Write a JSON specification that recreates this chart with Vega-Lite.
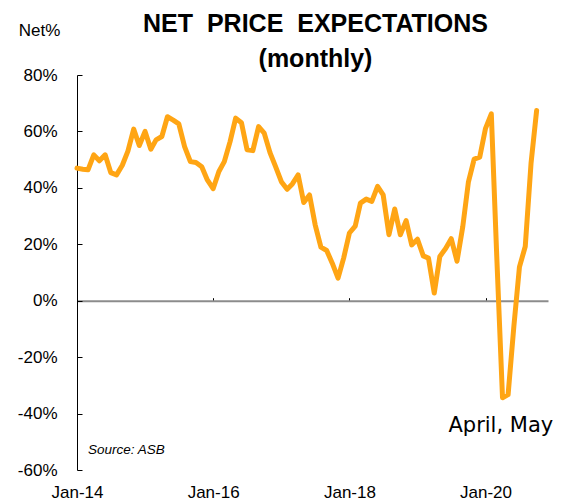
{
  "$schema": "https://vega.github.io/schema/vega-lite/v6.json",
  "autosize": {"type": "none"},
  "padding": {"left": 77, "top": 75, "right": 14, "bottom": 34},
  "width": 471,
  "height": 395,
  "background": "white",
  "config": {"view": {"stroke": null}, "font": "Liberation Sans"},
  "title": {
    "text": ["NET\u00a0 PRICE\u00a0 EXPECTATIONS", "(monthly)"],
    "fontSize": 25,
    "fontWeight": "bold",
    "font": "Liberation Sans",
    "color": "black",
    "lineHeight": 35,
    "anchor": "middle",
    "offset": -51,
    "dx": 3
  },
  "datasets": {
    "series": [
      {"month": "2014-01-01", "net": 47},
      {"month": "2014-02-01", "net": 46.6},
      {"month": "2014-03-01", "net": 46.4},
      {"month": "2014-04-01", "net": 51.7},
      {"month": "2014-05-01", "net": 49.6},
      {"month": "2014-06-01", "net": 51.7},
      {"month": "2014-07-01", "net": 45.4},
      {"month": "2014-08-01", "net": 44.6},
      {"month": "2014-09-01", "net": 48},
      {"month": "2014-10-01", "net": 53},
      {"month": "2014-11-01", "net": 60.8},
      {"month": "2014-12-01", "net": 55},
      {"month": "2015-01-01", "net": 60},
      {"month": "2015-02-01", "net": 53.7},
      {"month": "2015-03-01", "net": 57},
      {"month": "2015-04-01", "net": 58.2},
      {"month": "2015-05-01", "net": 65.2},
      {"month": "2015-06-01", "net": 64},
      {"month": "2015-07-01", "net": 62.7},
      {"month": "2015-08-01", "net": 54.6},
      {"month": "2015-09-01", "net": 49.3},
      {"month": "2015-10-01", "net": 49},
      {"month": "2015-11-01", "net": 47.5},
      {"month": "2015-12-01", "net": 42.8},
      {"month": "2016-01-01", "net": 39.7},
      {"month": "2016-02-01", "net": 45.8},
      {"month": "2016-03-01", "net": 49.3},
      {"month": "2016-04-01", "net": 56.4},
      {"month": "2016-05-01", "net": 64.7},
      {"month": "2016-06-01", "net": 63.1},
      {"month": "2016-07-01", "net": 53.5},
      {"month": "2016-08-01", "net": 53.2},
      {"month": "2016-09-01", "net": 61.7},
      {"month": "2016-10-01", "net": 59.4},
      {"month": "2016-11-01", "net": 52.5},
      {"month": "2016-12-01", "net": 47.5},
      {"month": "2017-01-01", "net": 42.2},
      {"month": "2017-02-01", "net": 39.5},
      {"month": "2017-03-01", "net": 41.4},
      {"month": "2017-04-01", "net": 44.6},
      {"month": "2017-05-01", "net": 34.8},
      {"month": "2017-06-01", "net": 37.5},
      {"month": "2017-07-01", "net": 27},
      {"month": "2017-08-01", "net": 19},
      {"month": "2017-09-01", "net": 17.8},
      {"month": "2017-10-01", "net": 13.3},
      {"month": "2017-11-01", "net": 8},
      {"month": "2017-12-01", "net": 15.1},
      {"month": "2018-01-01", "net": 24},
      {"month": "2018-02-01", "net": 26.4},
      {"month": "2018-03-01", "net": 34.6},
      {"month": "2018-04-01", "net": 36},
      {"month": "2018-05-01", "net": 35.2},
      {"month": "2018-06-01", "net": 40.5},
      {"month": "2018-07-01", "net": 37.5},
      {"month": "2018-08-01", "net": 23.4},
      {"month": "2018-09-01", "net": 32.5},
      {"month": "2018-10-01", "net": 23.4},
      {"month": "2018-11-01", "net": 28.4},
      {"month": "2018-12-01", "net": 19.8},
      {"month": "2019-01-01", "net": 21.8},
      {"month": "2019-02-01", "net": 15.9},
      {"month": "2019-03-01", "net": 15.1},
      {"month": "2019-04-01", "net": 2.7},
      {"month": "2019-05-01", "net": 15.7},
      {"month": "2019-06-01", "net": 18.5},
      {"month": "2019-07-01", "net": 22},
      {"month": "2019-08-01", "net": 14},
      {"month": "2019-09-01", "net": 26.3},
      {"month": "2019-10-01", "net": 42},
      {"month": "2019-11-01", "net": 50.2},
      {"month": "2019-12-01", "net": 50.9},
      {"month": "2020-01-01", "net": 61.1},
      {"month": "2020-02-01", "net": 66.2},
      {"month": "2020-03-01", "net": 16},
      {"month": "2020-04-01", "net": -34.4},
      {"month": "2020-05-01", "net": -33.3},
      {"month": "2020-06-01", "net": -9},
      {"month": "2020-07-01", "net": 12},
      {"month": "2020-08-01", "net": 19.2},
      {"month": "2020-09-01", "net": 48.7},
      {"month": "2020-10-01", "net": 67.4}
    ]
  },
  "layer": [
    {
      "data": {"name": "series"},
      "mark": {"type": "line", "color": "#FFA514", "strokeWidth": 5, "strokeJoin": "round", "strokeCap": "round"},
      "encoding": {
        "x": {
          "field": "month",
          "type": "temporal",
          "scale": {
            "type": "utc",
            "domain": [
              {"year": 2014, "month": 1, "date": 1, "utc": true},
              {"year": 2020, "month": 12, "date": 1, "utc": true}
            ]
          },
          "axis": {
            "orient": "bottom",
            "title": null,
            "domain": false,
            "ticks": false,
            "grid": false,
            "values": [
              {"year": 2014, "month": 1, "date": 1, "utc": true},
              {"year": 2016, "month": 1, "date": 1, "utc": true},
              {"year": 2018, "month": 1, "date": 1, "utc": true},
              {"year": 2020, "month": 1, "date": 1, "utc": true}
            ],
            "labelExpr": "utcFormat(datum.value, '%b-%y')",
            "labelFlush": false,
            "labelFont": "Liberation Sans",
            "labelFontSize": 17,
            "labelColor": "black",
            "labelPadding": 14
          }
        },
        "y": {
          "field": "net",
          "type": "quantitative",
          "scale": {"domain": [-60, 80], "nice": false, "zero": false},
          "axis": {
            "title": "Net%",
            "titleAngle": 0,
            "titleX": -38,
            "titleY": -45,
            "titleAlign": "center",
            "titleBaseline": "middle",
            "titleFont": "Liberation Sans",
            "titleFontSize": 17,
            "titleFontWeight": "normal",
            "titleColor": "black",
            "values": [-60, -40, -20, 0, 20, 40, 60, 80],
            "labelExpr": "datum.value + '%'",
            "labelFont": "Liberation Sans",
            "labelFontSize": 17,
            "labelColor": "black",
            "labelPadding": 25,
            "tickSize": -5,
            "tickColor": "black",
            "domainColor": "black",
            "domainWidth": 1,
            "grid": false
          }
        }
      }
    },
    {
      "data": {"values": [{}]},
      "mark": {"type": "text", "fontStyle": "italic", "fontSize": 13.5, "font": "Liberation Sans", "align": "left", "baseline": "middle", "color": "black"},
      "encoding": {
        "x": {
          "datum": {"year": 2014, "month": 3, "date": 1, "utc": true},
          "type": "temporal",
          "axis": {
            "orient": "top",
            "offset": -225.7,
            "title": null,
            "labels": false,
            "grid": false,
            "domainColor": "#8c8c8c",
            "domainWidth": 2,
            "ticks": true,
            "tickSize": 3,
            "tickColor": "black",
            "tickWidth": 1,
            "values": [
              {"year": 2016, "month": 1, "date": 1, "utc": true},
              {"year": 2018, "month": 1, "date": 1, "utc": true},
              {"year": 2020, "month": 1, "date": 1, "utc": true}
            ]
          }
        },
        "y": {"datum": -53},
        "text": {"value": "Source: ASB"}
      }
    },
    {
      "data": {"values": [{}]},
      "mark": {"type": "text", "fontSize": 21, "font": "DejaVu Sans", "align": "left", "baseline": "middle", "color": "black"},
      "encoding": {
        "x": {"datum": {"year": 2019, "month": 6, "date": 16, "utc": true}, "type": "temporal", "axis": null},
        "y": {"datum": -44.3},
        "text": {"value": "April, May"}
      }
    }
  ],
  "resolve": {"axis": {"x": "independent"}}
}
